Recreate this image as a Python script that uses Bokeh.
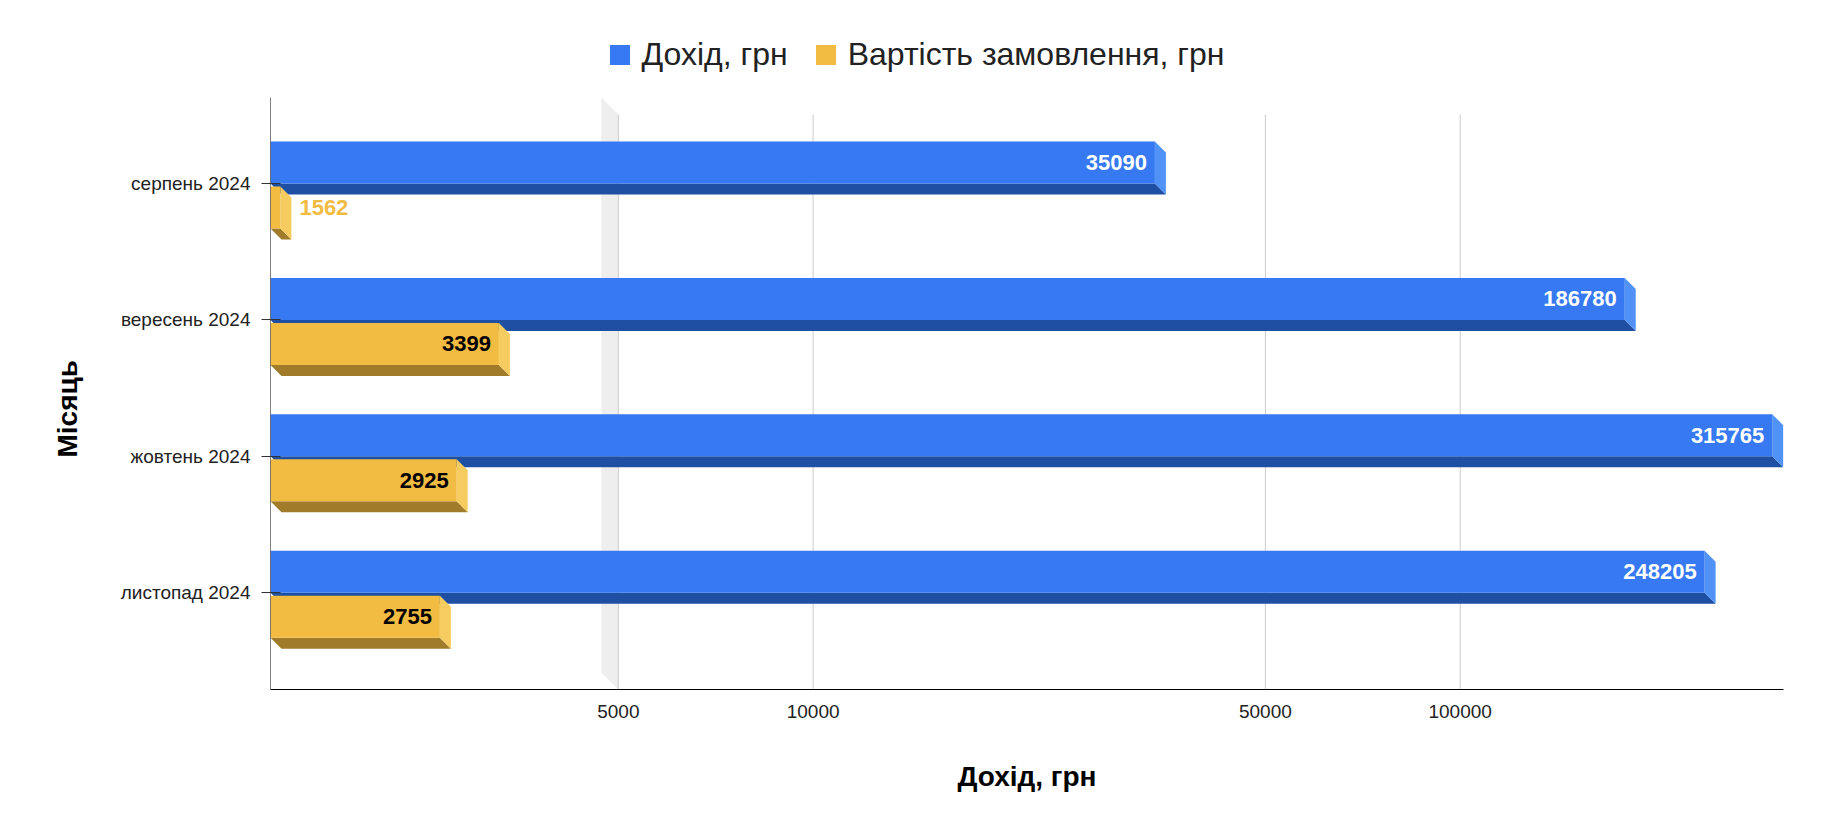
import math
from bokeh.plotting import figure
from bokeh.models import Range1d, FixedTicker, NumeralTickFormatter, Legend, LegendItem, Title
from bokeh.core.properties import value
from bokeh.embed import file_html
from bokeh.resources import INLINE

# ---------------- data ----------------
months = ["серпень 2024", "вересень 2024", "жовтень 2024", "листопад 2024"]
income = [35090, 186780, 315765, 248205]
order_cost = [1562, 3399, 2925, 2755]
x_ticks = [5000, 10000, 50000, 100000]
series_names = ["Дохід, грн", "Вартість замовлення, грн"]
x_title = "Дохід, грн"
y_title = "Місяць"

# ---------------- layout / style constants ----------------
X_START, X_END = 1450, 316000
FRAME_W = 1513
PLOT_H = 592                      # visible plot area height (axis length)
HEAD = 78                         # extra frame space above the plot for the legend
FRAME_H = PLOT_H + HEAD
PX_Y = 136.4                      # pixels per category step
Y_PLOT_TOP = -86 / PX_Y
Y_BOT = Y_PLOT_TOP + PLOT_H / PX_Y
Y_FRAME_TOP = Y_PLOT_TOP - HEAD / PX_Y
PX_DEC = FRAME_W / (math.log10(X_END) - math.log10(X_START))
DEPTH = 11                        # 3D depth in px
WALL = 17                         # depth of the baseline wall in px
FX = 10 ** (DEPTH / PX_DEC)
FW = 10 ** (WALL / PX_DEC)
DY = DEPTH / PX_Y
BAR_H = 42 / PX_Y
GAP = 3 / PX_Y

FONT = "Liberation Sans"
BLUE = ("#3679F3", "#1F4FA3", "#5092F5")
YELLOW = ("#F2BC42", "#A07C2A", "#F6CB60")

p = figure(frame_width=FRAME_W, frame_height=FRAME_H,
           x_axis_type="log",
           x_range=Range1d(X_START, X_END),
           y_range=Range1d(Y_BOT, Y_FRAME_TOP),
           output_backend="svg", toolbar_location=None,
           min_border_left=270, min_border_right=30,
           min_border_top=19, min_border_bottom=133,
           background_fill_color="white", border_fill_color="white")
p.outline_line_color = None
p.xgrid.visible = False
p.ygrid.visible = False

# baseline wall (3D) and grid lines on the back plane
base = x_ticks[0]
p.patch([base / FW, base, base, base / FW],
        [Y_PLOT_TOP, Y_PLOT_TOP + WALL / PX_Y, Y_BOT, Y_BOT - WALL / PX_Y],
        fill_color="#EEEEEE", line_color=None)
p.segment(x0=x_ticks, y0=[Y_PLOT_TOP + WALL / PX_Y] * len(x_ticks),
          x1=x_ticks, y1=[Y_BOT] * len(x_ticks),
          line_color="#CCCCCC", line_width=1)


def bars3d(values, top_offsets, colors):
    fr_x, fr_y, st_x, st_y, sd_x, sd_y = [], [], [], [], [], []
    for i, v in enumerate(values):
        top = i + top_offsets
        bot = top + BAR_H
        xf = v / FX
        fr_x.append([X_START, xf, xf, X_START])
        fr_y.append([top, top, bot, bot])
        st_x.append([X_START, xf, v, X_START * FX])
        st_y.append([bot, bot, bot + DY, bot + DY])
        sd_x.append([xf, v, v, xf])
        sd_y.append([top, top + DY, bot + DY, bot])
    p.patches(st_x, st_y, fill_color=colors[1], line_color=None)
    p.patches(sd_x, sd_y, fill_color=colors[2], line_color=None)
    r_fr = p.patches(fr_x, fr_y, fill_color=colors[0], line_color=None)
    return r_fr


r_blue = bars3d(income, -BAR_H, BLUE)
r_yel = bars3d(order_cost, GAP, YELLOW)


def labels(values, top_offsets, inside_color, outside_color):
    ins = dict(x=[], y=[], t=[])
    out = dict(x=[], y=[], t=[])
    for i, v in enumerate(values):
        yc = i + top_offsets + BAR_H / 2
        front_px = PX_DEC * math.log10((v / FX) / X_START)
        need = len(str(v)) * 0.556 * 22 + 16
        if front_px > need:
            ins["x"].append(v / FX); ins["y"].append(yc); ins["t"].append(str(v))
        else:
            out["x"].append(v); out["y"].append(yc); out["t"].append(str(v))
    common = dict(text_font=value(FONT), text_font_style="bold",
                  text_font_size="22px", text_baseline="middle")
    if ins["x"]:
        p.text(x=ins["x"], y=ins["y"], text=ins["t"], text_align="right",
               x_offset=-8, text_color=inside_color, **common)
    if out["x"]:
        p.text(x=out["x"], y=out["y"], text=out["t"], text_align="left",
               x_offset=8, text_color=outside_color, **common)


labels(income, -BAR_H, "white", BLUE[0])
labels(order_cost, GAP, "black", YELLOW[0])

# vertical axis line only over the plot area
p.segment(x0=[X_START], y0=[Y_PLOT_TOP], x1=[X_START], y1=[Y_BOT],
          line_color="black", line_width=1)

# ---------------- axes ----------------
xa = p.xaxis[0]
xa.ticker = FixedTicker(ticks=x_ticks)
xa.formatter = NumeralTickFormatter(format="0")
xa.major_tick_line_color = None
xa.minor_tick_line_color = None
xa.axis_line_color = "black"
xa.major_label_text_font = FONT
xa.major_label_text_font_size = "19px"
xa.major_label_text_color = "#222222"
xa.major_label_standoff = 9
xa.axis_label = x_title
xa.axis_label_text_font = FONT
xa.axis_label_text_font_style = "bold"
xa.axis_label_text_font_size = "28px"
xa.axis_label_text_color = "black"
xa.axis_label_standoff = 40

ya = p.yaxis[0]
ya.ticker = FixedTicker(ticks=list(range(len(months))))
ya.major_label_overrides = {i: m for i, m in enumerate(months)}
ya.major_tick_in = 10
ya.major_tick_out = 9
ya.major_tick_line_color = "#333333"
ya.minor_tick_line_color = None
ya.axis_line_color = None
ya.major_label_text_font = FONT
ya.major_label_text_font_size = "19px"
ya.major_label_text_color = "#222222"
ya.major_label_standoff = 11

# y axis title (side title, positioned along the plot area)
ytitle = Title(text=y_title, align="left", offset=232, standoff=70,
               text_font=FONT, text_font_style="bold",
               text_font_size="28px", text_color="black")
p.add_layout(ytitle, "left")

# ---------------- legend (inside the frame head room) ----------------
legend = Legend(items=[LegendItem(label=series_names[0], renderers=[r_blue]),
                       LegendItem(label=series_names[1], renderers=[r_yel])],
                orientation="horizontal", location=(336.5, 616),
                padding=0, margin=0, spacing=25, label_standoff=10,
                glyph_width=25, glyph_height=25, label_height=20,
                label_text_font=FONT, label_text_font_size="32px",
                label_text_color="#222222",
                border_line_color=None, background_fill_alpha=0)
p.add_layout(legend)

with open("out.html", "w", encoding="utf-8") as f:
    f.write(file_html(p, INLINE))
